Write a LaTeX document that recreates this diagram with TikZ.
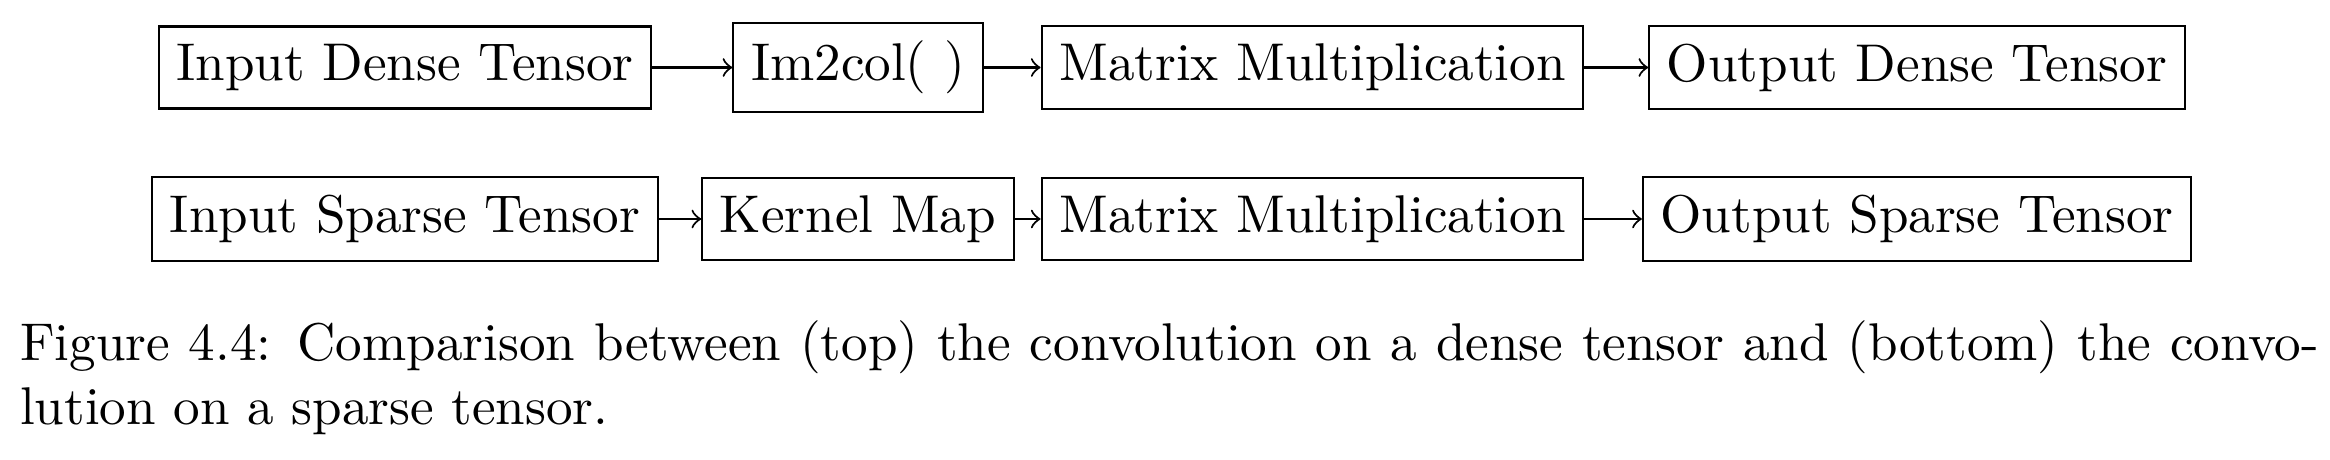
\documentclass[tikz,border=0pt]{standalone}
\usepackage{fontspec}
\begin{document}
\begin{tikzpicture}[x=0.1883pt,y=-0.1883pt,
  box/.style={draw, line width=0.4pt},
  conn/.style={->, line width=0.4pt}]
\useasboundingbox (0,0) rectangle (2330,460);
\node[box] (a1) at (405,67.5) {Input Dense Tensor};
\node[box] (a2) at (858,67.5) {Im2col( )};
\node[box] (a3) at (1312.5,67.5) {Matrix Multiplication};
\node[box] (a4) at (1917,67.5) {Output Dense Tensor};
\node[box] (b1) at (405,219) {Input Sparse Tensor};
\node[box] (b2) at (858,219) {Kernel Map};
\node[box] (b3) at (1312.5,219) {Matrix Multiplication};
\node[box] (b4) at (1917,219) {Output Sparse Tensor};
\draw[conn] (a1) -- (a2);
\draw[conn] (a2) -- (a3);
\draw[conn] (a3) -- (a4);
\draw[conn] (b1) -- (b2);
\draw[conn] (b2) -- (b3);
\draw[conn] (b3) -- (b4);
\node[anchor=north west, inner sep=0pt, text width=432.9pt, align=justify] (cap) at (19,320)
  {Figure 4.4: Comparison between (top) the convolution on a dense tensor and (bottom) the convo-\linebreak lution on a sparse tensor.};
\end{tikzpicture}
\end{document}
